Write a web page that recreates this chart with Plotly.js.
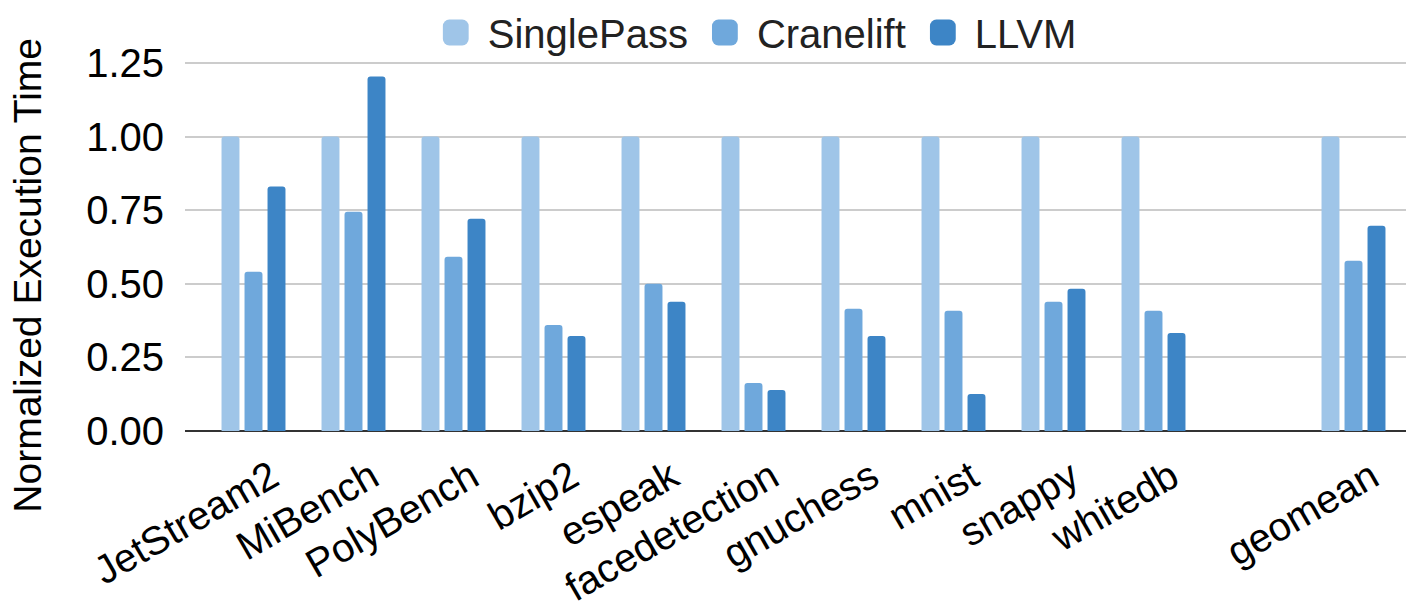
<!DOCTYPE html>
<html>
<head>
<meta charset="utf-8">
<script src="https://cdn.plot.ly/plotly-3.0.1.min.js"></script>
<style>html,body{margin:0;padding:0;background:#fff;}#chart{width:1406px;height:604px;}</style>
</head>
<body>
<div id="chart"></div>
<script>
const categories = ["JetStream2","MiBench","PolyBench","bzip2","espeak","facedetection","gnuchess","mnist","snappy","whitedb"," ","geomean"];
const singlePass = [1.0,1.0,1.0,1.0,1.0,1.0,1.0,1.0,1.0,1.0,null,1.0];
const cranelift  = [0.541,0.745,0.592,0.36,0.50,0.163,0.415,0.408,0.439,0.408,null,0.578];
const llvm       = [0.83,1.204,0.721,0.323,0.439,0.139,0.323,0.126,0.483,0.333,null,0.697];
const yTicks = [0,0.25,0.5,0.75,1.0,1.25];
const yTickText = ["0.00","0.25","0.50","0.75","1.00","1.25"];
const yTitle = "Normalized Execution Time";

const font = "Liberation Sans, Arial, sans-serif";
function tr(name, y, color){
  return {type:'bar', name:name, x:categories, y:y,
    marker:{color:color, cornerradius:3, line:{width:0}}, hoverinfo:'skip'};
}
const data = [
  tr("SinglePass", singlePass, "#9fc5e8"),
  tr("Cranelift", cranelift, "#6fa8dc"),
  tr("LLVM", llvm, "#3d85c6")
];
const layout = {
  width:1406, height:604,
  margin:{l:185, r:0, t:60, b:173, autoexpand:false},
  paper_bgcolor:'#fff', plot_bgcolor:'#fff',
  barmode:'group', bargap:0.31, bargroupgap:0.22,
  font:{family:font, color:'#000'},
  showlegend:true,
  legend:{orientation:'h', x:0.465, xanchor:'center', y:1.0, yanchor:'top', yref:'container',
    bgcolor:'rgba(0,0,0,0)', borderwidth:0,
    font:{size:40, family:font, color:'#222'}, itemwidth:54, traceorder:'normal'},
  xaxis:{type:'category', range:[-0.685, 11.525], showgrid:false, showline:false, zeroline:false,
    tickangle:-30, tickfont:{size:40, family:font, color:'#000'}, ticks:'', automargin:false,
    ticklabelshift:18, ticklabelstandoff:14},
  yaxis:{range:[0,1.26], tickvals:yTicks, ticktext:yTickText, showgrid:true, gridcolor:'#cccccc', gridwidth:2,
    zeroline:true, zerolinecolor:'#333333', zerolinewidth:2, showline:false,
    tickfont:{size:40, family:font, color:'#000'}, ticklabelstandoff:20, automargin:false},
  annotations:[{text:yTitle, xref:'paper', yref:'paper', x:-0.129, y:0.42, xanchor:'center', yanchor:'middle',
    textangle:-90, showarrow:false, font:{size:39, family:font, color:'#000'}}]
};
Plotly.newPlot('chart', data, layout, {displayModeBar:false, staticPlot:true}).then(function(gd){
  gd.querySelectorAll('.legend .legendpoints path').forEach(function(p){
    p.setAttribute('transform', (p.getAttribute('transform')||'') + ' scale(2.15)');
  });
});
</script>
</body>
</html>
